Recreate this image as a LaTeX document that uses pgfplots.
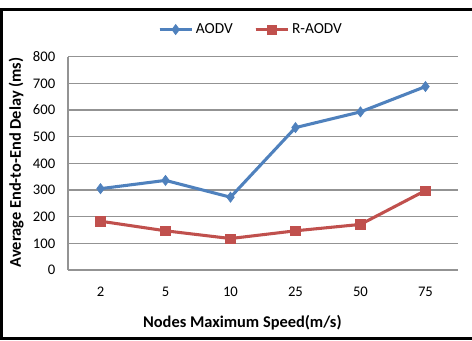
\documentclass[border=0pt]{standalone}
\usepackage{pgfplots}
\pgfplotsset{compat=1.18}
\usepackage{fontspec}
\setmainfont{Carlito}
\definecolor{aodv}{HTML}{4F81BD}
\definecolor{raodv}{HTML}{C0504D}
\begin{document}
\begin{tikzpicture}
\useasboundingbox (0,0) rectangle (354pt,255pt);
\begin{axis}[
  at={(51pt,52.5pt)}, anchor=south west,
  scale only axis, width=292.5pt, height=160pt,
  xmin=-0.5, xmax=5.5, ymin=0, ymax=800,
  xtick={0,1,2,3,4,5}, xticklabels={2,5,10,25,50,75},
  ytick={0,100,...,800},
  ymajorgrids, grid style={draw=gray!85, line width=1pt},
  axis x line*=bottom, axis y line*=left,
  axis line style={draw=gray!85, line width=1pt, -},
  major tick length=0pt,
  tick label style={font=\fontsize{11}{12}\selectfont},
  /pgf/number format/assume math mode=true,
  xticklabel style={yshift=-9pt},
  yticklabel style={xshift=-6pt},
  xlabel={\bfseries Nodes Maximum Speed(m/s)},
  ylabel={\bfseries Average End-to-End Delay (ms)},
  label style={font=\fontsize{12.3}{14}\selectfont},
  xlabel style={at={(axis description cs:0.447,-0.248)}, anchor=center},
  ylabel style={at={(axis description cs:-0.133,0.505)}, anchor=center, rotate=0},
  legend style={at={(axis description cs:0.47,1.127)}, anchor=center, draw=none, font=\fontsize{11.5}{12}\selectfont, /tikz/every even column/.append style={column sep=14pt}},
  legend columns=2,
  legend image code/.code={\draw[#1] (0cm,0cm) -- (0.85cm,0cm); \draw[#1, mark repeat=2, mark phase=2] plot coordinates {(0cm,0cm) (0.425cm,0cm) (0.85cm,0cm)};},
]
\addplot[color=aodv, line width=2.3pt, mark=diamond*, mark size=3.8pt, mark options={solid, line width=0.5pt}] coordinates {(0,305) (1,336) (2,273) (3,534) (4,593) (5,688)};
\addlegendentry{AODV}
\addplot[color=raodv, line width=2.3pt, mark=square*, mark size=3.5pt, mark options={solid, line width=0.5pt}] coordinates {(0,183) (1,147) (2,118) (3,147) (4,171) (5,298)};
\addlegendentry{R-AODV}
\end{axis}
\draw[line width=2.25pt] (354pt,247.5pt) -- (1.1pt,247.5pt) -- (1.1pt,1.5pt) -- (354pt,1.5pt);
\end{tikzpicture}
\end{document}
